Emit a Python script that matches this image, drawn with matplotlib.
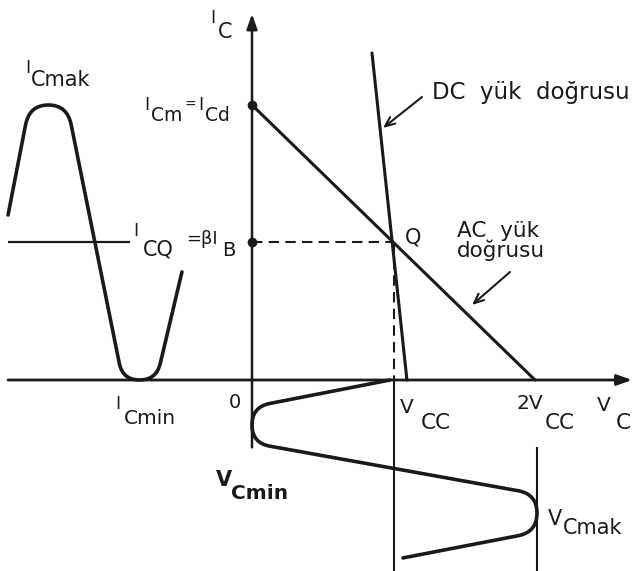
import numpy as np
import matplotlib
matplotlib.use("Agg")
import matplotlib.pyplot as plt
from matplotlib.path import Path
from matplotlib.patches import PathPatch

plt.rcParams['font.family'] = ['DejaVu Sans']

W, H = 634, 571
INK = '#1a1a1a'

# Load-line quantities (V in units of V_CC, I in units of I_Cd)
VCC = 1.0
ICD = 1.0            # I_Cm = I_Cd
ICQ = 0.5            # I_CQ = beta * I_B
VC_MAX = 2.014       # V_Cmak
ac_line_v = [0.0, 2 * VCC]
ac_line_i = [ICD, 0.0]
dc_line_v = [0.848, 1.095]
dc_line_i = [1.189, 0.0]

# Collector current waveform, left of the I_C axis (corner points)
ic_wave_pos = [-1.724, -1.573, -1.306, -0.914, -0.676, -0.495]
ic_wave_val = [0.60, 1.0, 1.0, 0.0, 0.0, 0.393]
ic_wave_round = [20, 20, 17, 17]

# Collector voltage waveform, below the V_C axis (corner points)
vc_wave_val = [0.975, 0.0, 0.0, VC_MAX, VC_MAX, 1.067]
vc_wave_pos = [0.0, -0.098, -0.229, -0.415, -0.553, -0.647]
vc_wave_round = [18, 18, 19, 19]

fig = plt.figure(figsize=(W / 100, H / 100), dpi=100)
fig.patch.set_facecolor('white')
ax = fig.add_axes([0, 0, 1, 1])
ax.set_xlim(-252 / 141.5, 382 / 141.5)
ax.set_ylim(-191 / 275, 380 / 275)
ax.axis('off')


def rounded_path(xs, ys, radii):
    """Polyline through the given points with its inner corners rounded (radii in pixels)."""
    pts = ax.transData.transform(np.column_stack([xs, ys]))
    verts = [pts[0]]
    codes = [Path.MOVETO]
    for k in range(1, len(pts) - 1):
        p, a, b = pts[k], pts[k - 1], pts[k + 1]
        da, db = a - p, b - p
        la, lb = np.hypot(*da), np.hypot(*db)
        r = radii[k - 1]
        p1 = p + da / la * min(r, la / 2)
        p2 = p + db / lb * min(r, lb / 2)
        verts += [p1, p, p2]
        codes += [Path.LINETO, Path.CURVE3, Path.CURVE3]
    verts.append(pts[-1])
    codes.append(Path.LINETO)
    return Path(ax.transData.inverted().transform(np.array(verts)), codes)


xmin, xmax = ax.get_xlim()
ymin, ymax = ax.get_ylim()

# Axes with arrows
ax.annotate('', xy=(2.686, 0), xytext=(-1.724, 0),
            arrowprops=dict(arrowstyle='-|>,head_length=0.9,head_width=0.32',
                            color=INK, lw=2.0, shrinkA=0, shrinkB=0))
ax.annotate('', xy=(0, 1.331), xytext=(0, -0.245),
            arrowprops=dict(arrowstyle='-|>,head_length=0.9,head_width=0.32',
                            color=INK, lw=1.8, shrinkA=0, shrinkB=0))

# Time axes of the waveforms
ax.plot([-1.724, -0.86], [ICQ, ICQ], color=INK, lw=1.6, solid_capstyle='butt')
ax.plot([VCC, VCC], [0, ymin], color=INK, lw=1.5)
ax.plot([VC_MAX, VC_MAX], [-0.247, ymin], color=INK, lw=1.5)

# Load lines
ax.plot(ac_line_v, ac_line_i, color=INK, lw=2.2, solid_capstyle='round')
ax.plot(dc_line_v, dc_line_i, color=INK, lw=2.2, solid_capstyle='round')

# Q point projections
ax.plot([0, VCC], [ICQ, ICQ], color=INK, lw=1.5, dashes=(5, 3))
ax.plot([VCC, VCC], [ICQ, 0], color=INK, lw=1.5, dashes=(5, 3))
ax.plot([0, 0], [ICD, ICQ], 'o', color=INK, ms=6)

# Waveforms
ax.add_patch(PathPatch(rounded_path(ic_wave_pos, ic_wave_val, ic_wave_round),
                       facecolor='none', edgecolor=INK, lw=2.6, capstyle='round'))
ax.add_patch(PathPatch(rounded_path(vc_wave_val, vc_wave_pos, vc_wave_round),
                       facecolor='none', edgecolor=INK, lw=2.6, capstyle='round'))


def px(x, y):
    return (x / W, 1 - y / H)


# Pointer arrows for the load-line captions
ax.annotate('', xy=px(383, 128), xycoords='figure fraction',
            xytext=px(422, 97), textcoords='figure fraction',
            arrowprops=dict(arrowstyle='->,head_length=0.7,head_width=0.3',
                            color=INK, lw=1.5, shrinkA=0, shrinkB=0))
ax.annotate('', xy=px(472, 305), xycoords='figure fraction',
            xytext=px(510, 272), textcoords='figure fraction',
            arrowprops=dict(arrowstyle='->,head_length=0.7,head_width=0.3',
                            color=INK, lw=1.5, shrinkA=0, shrinkB=0))

# Labels: (x, baseline, text, size, weight)
labels = [
    (210, 23, 'I', 12.5, 'normal'), (218, 38, 'C', 15, 'normal'),
    (25, 73, 'I', 12.5, 'normal'), (31, 86, 'Cmak', 15, 'normal'),
    (144, 110, 'I', 12.5, 'normal'), (151, 121, 'Cm', 13.5, 'normal'),
    (185, 109, '=', 10, 'normal'), (198, 110, 'I', 12.5, 'normal'),
    (205, 121, 'Cd', 13.5, 'normal'),
    (133, 236, 'I', 12.5, 'normal'), (143, 255, 'CQ', 15, 'normal'),
    (186, 244, '=βI', 13, 'normal'), (222, 256, 'B', 14, 'normal'),
    (405, 244, 'Q', 15, 'normal'),
    (457, 237, 'AC  yük', 15.5, 'normal'), (457, 257, 'doğrusu', 15.5, 'normal'),
    (432, 99, 'DC  yük  doğrusu', 16.5, 'normal'),
    (115, 409, 'I', 12.5, 'normal'), (124, 424, 'Cmin', 14.5, 'normal'),
    (229, 408, '0', 14, 'normal'),
    (216, 486, 'V', 15, 'bold'), (231, 499, 'Cmin', 14.5, 'bold'),
    (400, 413, 'V', 14.5, 'normal'), (421, 429, 'CC', 15.5, 'normal'),
    (516, 409, '2V', 14.5, 'normal'), (545, 429, 'CC', 15.5, 'normal'),
    (597, 411, 'V', 14.5, 'normal'), (616, 429, 'C', 15.5, 'normal'),
    (548, 525, 'V', 15, 'normal'), (563, 534, 'Cmak', 15, 'normal'),
]
for x, y, s, size, weight in labels:
    fig.text(*px(x, y), s, fontsize=size, fontweight=weight, color=INK,
             ha='left', va='baseline')

fig.savefig('out.png', dpi=100, facecolor='white')
